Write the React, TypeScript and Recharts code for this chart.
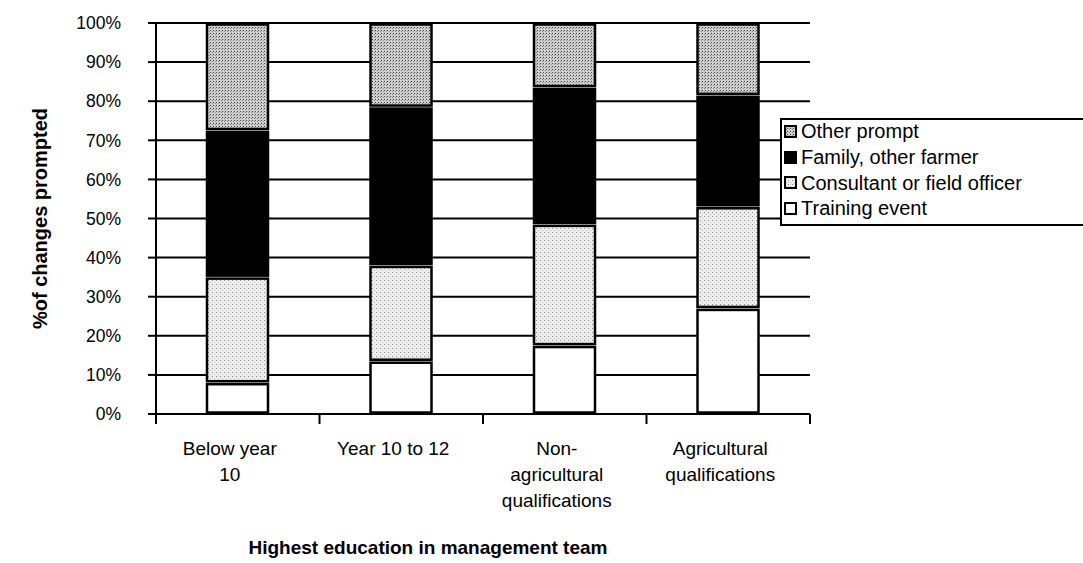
import React from "react";
import {
  BarChart,
  Bar,
  XAxis,
  YAxis,
  CartesianGrid,
} from "recharts";

const categories = [
  "Below year 10",
  "Year 10 to 12",
  "Non-agricultural qualifications",
  "Agricultural qualifications",
];
const categoryLines = [
  ["Below year", "10"],
  ["Year 10 to 12"],
  ["Non-", "agricultural", "qualifications"],
  ["Agricultural", "qualifications"],
];
const trainingEvent = [8, 13.5, 17.5, 27];
const consultant = [27, 24.5, 31, 26];
const familyFarmer = [37.5, 40.5, 35, 28.5];
const otherPrompt = [27.5, 21.5, 16.5, 18.5];
const yTicks = [0, 10, 20, 30, 40, 50, 60, 70, 80, 90, 100];
const boundaryTicks = [0, 1, 2, 3, 4];
const labelTicks = [0.5, 1.5, 2.5, 3.5];

const data = categories.map((name, i) => ({
  name,
  pos: i + 0.5,
  training: trainingEvent[i],
  consultant: consultant[i],
  family: familyFarmer[i],
  other: otherPrompt[i],
}));

const FONT = "'Liberation Sans', Arial, sans-serif";

// rect inset a bit so stacked segments get a white gap like the original
const SegmentShape = (props: any) => {
  const { x, y, width, height, fill } = props;
  if (!height || height <= 0) return null;
  return (
    <rect
      x={x + 1}
      y={y + 1.5}
      width={width - 2}
      height={Math.max(height - 3, 0)}
      fill={fill}
      stroke="#000"
      strokeWidth={2.5}
    />
  );
};

const CategoryTick = (props: any) => {
  const { x, y, payload } = props;
  const idx = Math.floor(payload.value);
  const lines = categoryLines[idx] || [];
  return (
    <text
      x={x}
      y={y}
      textAnchor="middle"
      fill="#000"
      fontSize={19}
      fontFamily={FONT}
    >
      {lines.map((l, i) => (
        <tspan key={i} x={x - 8} dy={i === 0 ? 15 : 26}>
          {l}
        </tspan>
      ))}
    </text>
  );
};

const legendItems = [
  { label: "Other prompt", fill: "url(#patOtherL)" },
  { label: "Family, other farmer", fill: "#000" },
  { label: "Consultant or field officer", fill: "url(#patConsultL)" },
  { label: "Training event", fill: "#fff" },
];

function PatternDefs({ suffix }: { suffix: string }) {
  return (
    <defs>
      <pattern
        id={"patOther" + suffix}
        width="3"
        height="3"
        patternUnits="userSpaceOnUse"
      >
        <rect width="3" height="3" fill="#cfcfcf" />
        <rect width="1" height="1" fill="#444" />
        <rect x="2" y="1" width="1" height="1" fill="#888" />
      </pattern>
      <pattern
        id={"patConsult" + suffix}
        width="4"
        height="4"
        patternUnits="userSpaceOnUse"
      >
        <rect width="4" height="4" fill="#eeeeee" />
        <rect width="1" height="1" fill="#888" />
        <rect x="2" y="2" width="1" height="1" fill="#bbb" />
      </pattern>
    </defs>
  );
}

export default function App() {
  return (
    <div
      style={{
        position: "absolute",
        left: 0,
        top: 0,
        width: 1083,
        height: 563,
        overflow: "hidden",
        background: "#fff",
        fontFamily: FONT,
      }}
    >
      <BarChart
        width={1083}
        height={563}
        data={data}
        margin={{ top: 23, right: 273, left: 0, bottom: 0 }}
      >
        <PatternDefs suffix="" />
        <CartesianGrid
          horizontal
          vertical={false}
          stroke="#000"
          strokeWidth={2}
        />
        <XAxis
          xAxisId={0}
          type="number"
          dataKey="pos"
          domain={[0, 4]}
          ticks={boundaryTicks}
          tickFormatter={() => ""}
          tickSize={10}
          height={12}
          axisLine={{ stroke: "#000", strokeWidth: 2 }}
          tickLine={{ stroke: "#000", strokeWidth: 2 }}
        />
        <XAxis
          xAxisId="lab"
          type="number"
          dataKey="pos"
          domain={[0, 4]}
          ticks={labelTicks}
          height={137}
          axisLine={false}
          tickLine={false}
          tick={<CategoryTick />}
          tickMargin={8}
          label={{
            value: "Highest education in management team",
            position: "insideBottom",
            offset: 9,
            dx: -55,
            fill: "#000",
            fontSize: 19,
            fontWeight: 700,
            fontFamily: FONT,
          }}
        />
        <YAxis
          type="number"
          domain={[0, 100]}
          ticks={yTicks}
          width={156}
          tickFormatter={(v) => v + "%"}
          tick={{ fill: "#000", fontSize: 17.5, fontFamily: FONT }}
          tickSize={8}
          tickMargin={27}
          axisLine={{ stroke: "#000", strokeWidth: 2 }}
          tickLine={{ stroke: "#000", strokeWidth: 2 }}
          label={{
            value: "%of changes prompted",
            angle: -90,
            position: "insideLeft",
            offset: 40,
            style: { textAnchor: "middle" },
            fill: "#000",
            fontSize: 20,
            fontWeight: 700,
            fontFamily: FONT,
          }}
        />
        <Bar
          dataKey="training"
          stackId="a"
          fill="#fff"
          barSize={63}
          shape={<SegmentShape />}
          isAnimationActive={false}
        />
        <Bar
          dataKey="consultant"
          stackId="a"
          fill="url(#patConsult)"
          barSize={63}
          shape={<SegmentShape />}
          isAnimationActive={false}
        />
        <Bar
          dataKey="family"
          stackId="a"
          fill="#000"
          barSize={63}
          shape={<SegmentShape />}
          isAnimationActive={false}
        />
        <Bar
          dataKey="other"
          stackId="a"
          fill="url(#patOther)"
          barSize={63}
          shape={<SegmentShape />}
          isAnimationActive={false}
        />
      </BarChart>

      {/* legend box, runs off the right edge like the scan */}
      <div
        style={{
          position: "absolute",
          left: 780,
          top: 118,
          width: 330,
          height: 108,
          border: "2px solid #000",
          background: "#fff",
          boxSizing: "border-box",
        }}
      >
        <svg width={0} height={0} style={{ position: "absolute" }}>
          <PatternDefs suffix="L" />
        </svg>
        {legendItems.map((it, i) => (
          <div
            key={it.label}
            style={{
              position: "absolute",
              left: 2,
              top: i * 25.7 - 1,
              display: "flex",
              alignItems: "center",
              height: 25.7,
              fontSize: 20,
              color: "#000",
              whiteSpace: "nowrap",
            }}
          >
            <svg width={17} height={14}>
              <rect
                x={1}
                y={1}
                width={11}
                height={11}
                fill={it.fill}
                stroke="#000"
                strokeWidth={2}
              />
            </svg>
            <span>{it.label}</span>
          </div>
        ))}
      </div>
    </div>
  );
}
